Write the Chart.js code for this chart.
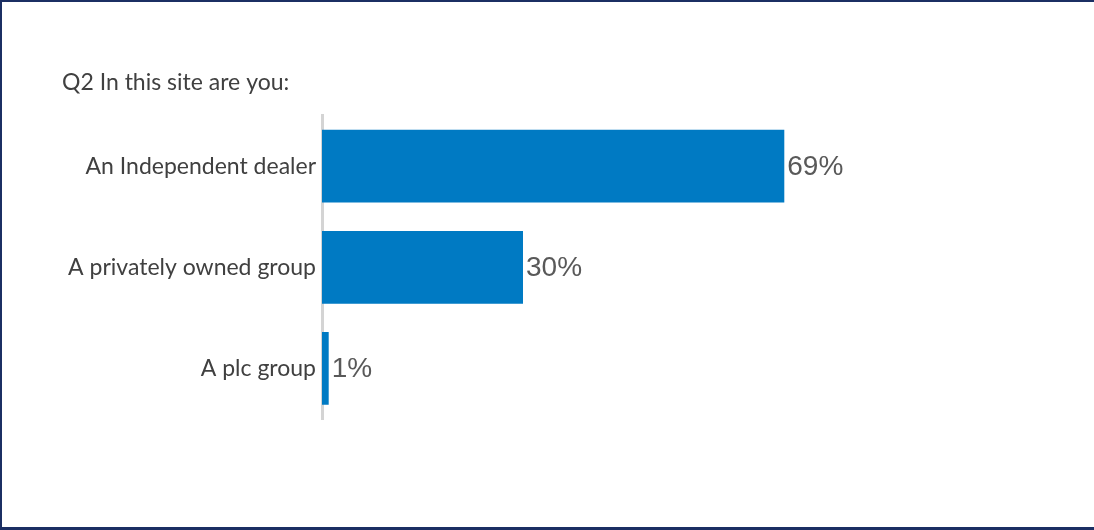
<!DOCTYPE html>
<html>
<head>
<meta charset="utf-8">
<script src="https://cdn.jsdelivr.net/npm/chart.js@4.4.1/dist/chart.umd.min.js"></script>
<style>
  html, body { margin: 0; padding: 0; background: #ffffff; }
  #wrap { position: relative; width: 1094px; height: 530px; }
  #c { position: absolute; left: 0; top: 0; }
  #frame { position: absolute; left: 0; top: 0; width: 1094px; height: 530px; box-sizing: border-box;
           border-top: 2px solid #1b2f63; border-left: 2px solid #1b2f63; border-bottom: 3px solid #1b2f63;
           pointer-events: none; }
</style>
</head>
<body>
<div id="wrap">
  <canvas id="c" width="1094" height="530"></canvas>
  <div id="frame"></div>
</div>
<script>
const titleText = "Q2 In this site are you:";
const categories = ["An Independent dealer", "A privately owned group", "A plc group"];
const values = [69, 30, 1];
const valueLabels = ["69%", "30%", "1%"];

const labelFont = "Lato, 'Open Sans', sans-serif";

const valueLabelPlugin = {
  id: 'valueLabels',
  afterDatasetsDraw(chart) {
    const ctx = chart.ctx;
    const meta = chart.getDatasetMeta(0);
    ctx.save();
    ctx.font = "28px 'Liberation Sans', Arial, sans-serif";
    ctx.fillStyle = "#595959";
    ctx.textAlign = "left";
    ctx.textBaseline = "middle";
    meta.data.forEach((bar, i) => {
      ctx.fillText(valueLabels[i], bar.x + 3, bar.y + 1);
    });
    ctx.restore();
  }
};

new Chart(document.getElementById('c'), {
  type: 'bar',
  data: {
    labels: categories,
    datasets: [{
      data: values,
      backgroundColor: '#007ac3',
      borderWidth: 0,
      categoryPercentage: 1.0,
      barPercentage: 0.72
    }]
  },
  options: {
    indexAxis: 'y',
    responsive: false,
    animation: false,
    events: [],
    layout: { padding: { left: 62, right: 102, top: 69, bottom: 111 } },
    plugins: {
      legend: { display: false },
      tooltip: { enabled: false },
      title: {
        display: true,
        text: titleText,
        align: 'start',
        color: '#404040',
        font: { family: labelFont, size: 23, weight: 'normal' },
        padding: { top: 0, bottom: 19 }
      }
    },
    scales: {
      x: { display: false, min: 0, max: 100 },
      y: {
        grid: { display: false, drawTicks: false },
        border: { display: true, color: '#d4d4d4', width: 3 },
        ticks: {
          color: '#404040',
          font: { family: labelFont, size: 23 },
          padding: 6
        },
        afterFit(scale) { scale.width = 260; }
      }
    }
  },
  plugins: [valueLabelPlugin]
});
</script>
</body>
</html>
